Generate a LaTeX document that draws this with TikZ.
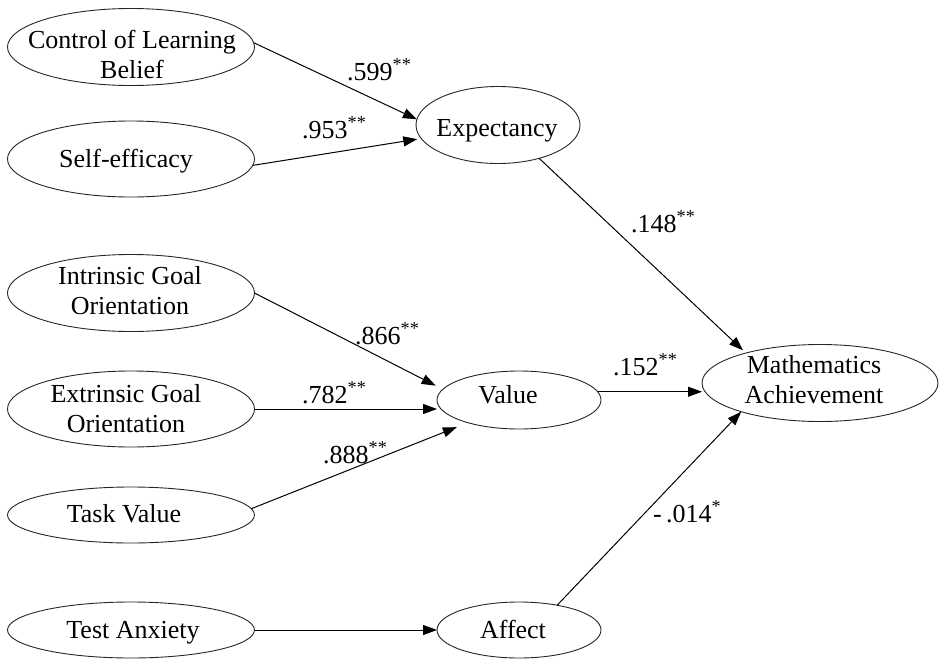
\documentclass[tikz,border=0pt]{standalone}
\usepackage{fontspec}
\setmainfont{Liberation Serif}
\usetikzlibrary{shapes.geometric,arrows.meta,calc}
\begin{document}
\begin{tikzpicture}[x=1pt,y=-1pt,
  ell/.style={draw=black!85, line width=0.9pt, ellipse, inner sep=0pt, outer sep=0pt},
  txt/.style={font=\fontsize{26}{30}\selectfont, inner sep=0pt, align=center},
  coef/.style={font=\fontsize{26}{30}\selectfont, inner sep=0pt, anchor=base west},
  arr/.style={line width=1pt, -{Triangle[length=14pt,width=10pt]}}]
\useasboundingbox (0,0) rectangle (940,659);

% ellipses
\node[ell, minimum width=247pt, minimum height=77pt] (ctrl) at (131,47) {};
\node[ell, minimum width=247pt, minimum height=76pt] (self) at (131,159) {};
\node[ell, minimum width=164pt, minimum height=77pt] (expc) at (498,125) {};
\node[ell, minimum width=247pt, minimum height=77pt] (intr) at (131,293) {};
\node[ell, minimum width=247pt, minimum height=76pt] (extr) at (131,409) {};
\node[ell, minimum width=247pt, minimum height=56pt] (task) at (131,515) {};
\node[ell, minimum width=164pt, minimum height=58pt] (value) at (519,400) {};
\node[ell, minimum width=236pt, minimum height=77pt] (math) at (820,383) {};
\node[ell, minimum width=247pt, minimum height=56pt] (test) at (131,630) {};
\node[ell, minimum width=164pt, minimum height=56pt] (affect) at (519,630) {};

% texts
\node[txt] (ctrlT) at (132,54.6) {Control of Learning\\Belief};
\node[txt, anchor=base] (selfT) at (126,167) {Self-efficacy};
\node[txt, anchor=base] (expcT) at (497,136) {Expectancy};
\node[txt] (intrT) at (130,291) {Intrinsic Goal\\Orientation};
\node[txt] (extrT) at (126,408.6) {Extrinsic Goal\\Orientation};
\node[txt, anchor=base] (taskT) at (124,522) {Task Value};
\node[txt, anchor=base] (valueT) at (508,403) {Value};
\node[txt] (mathT) at (814,379.6) {Mathematics\\Achievement};
\node[txt, anchor=base] (testT) at (133,638) {Test Anxiety};
\node[txt, anchor=base] (affectT) at (513,638) {Affect};

% connectors
\draw[arr] (ctrl.2) -- (expc.176);
\draw[arr, shorten >=4pt] (self.-3) -- (expc.190);
\draw[arr, shorten >=4pt] (expc.-39) -- (math.158);
\draw[arr, shorten >=8pt] (intr.east) -- (value.172);
\draw[arr] (extr.east) -- (extr.east -| value.west);
\draw[arr, shorten >=12pt] (task.3) -- (value.204);
\draw[arr] (value.6) -- (value.6 -| math.west);
\draw[arr] (test.east) -- (test.east -| affect.west);
\draw[arr] (affect.33) -- (math.200);

% coefficients
\node[coef] (c1) at (347,80) {.599\textsuperscript{**}};
\node[coef] (c2) at (302,138) {.953\textsuperscript{**}};
\node[coef] (c3) at (631,232) {.148\textsuperscript{**}};
\node[coef] (c4) at (355,344) {.866\textsuperscript{**}};
\node[coef] (c5) at (302,403) {.782\textsuperscript{**}};
\node[coef] (c6) at (323,463) {.888\textsuperscript{**}};
\node[coef] (c7) at (613,375) {.152\textsuperscript{**}};
\node[coef] (c8) at (653,522) {-\,.014\textsuperscript{*}};
\end{tikzpicture}
\end{document}
